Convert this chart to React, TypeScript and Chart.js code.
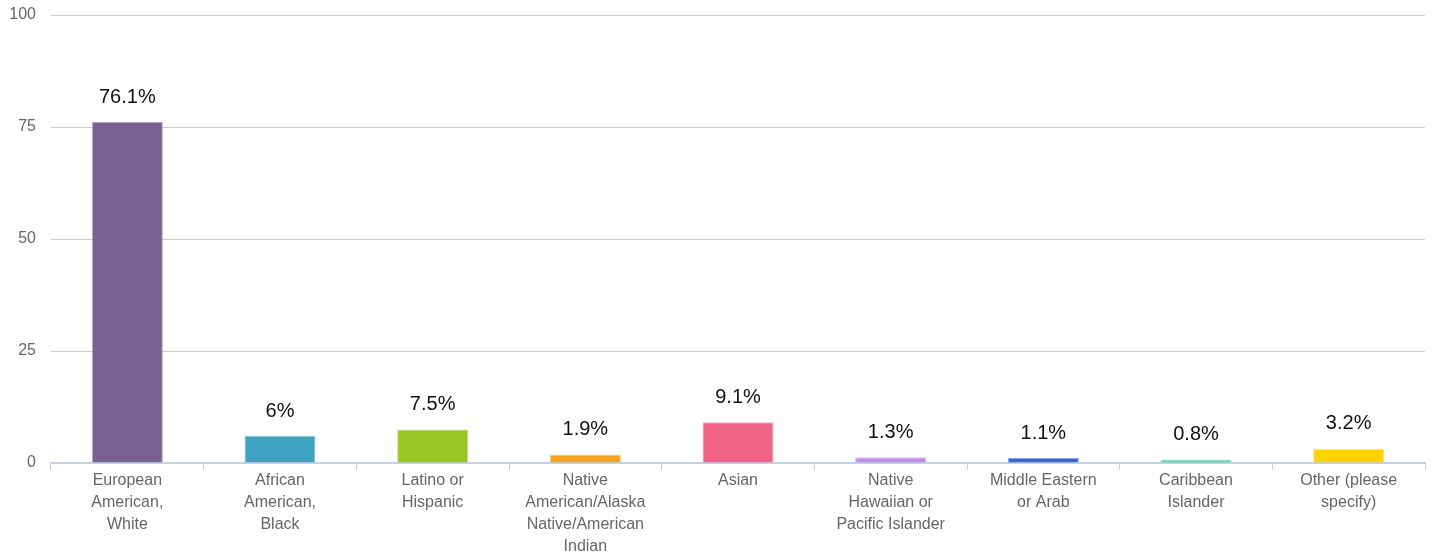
import React, { useEffect, useRef } from "react";
import { Chart, registerables } from "chart.js";

Chart.register(...registerables);

const categories: string[][] = [
  ["European", "American,", "White"],
  ["African", "American,", "Black"],
  ["Latino or", "Hispanic"],
  ["Native", "American/Alaska", "Native/American", "Indian"],
  ["Asian"],
  ["Native", "Hawaiian or", "Pacific Islander"],
  ["Middle Eastern", "or Arab"],
  ["Caribbean", "Islander"],
  ["Other (please", "specify)"],
];
const values: number[] = [76.1, 6, 7.5, 1.9, 9.1, 1.3, 1.1, 0.8, 3.2];
const valueLabels: string[] = ["76.1%", "6%", "7.5%", "1.9%", "9.1%", "1.3%", "1.1%", "0.8%", "3.2%"];
const barColors: string[] = [
  "#7b6191", "#3fa1c2", "#95c623", "#f5a31a", "#f06384",
  "#c28de8", "#3a67d6", "#4bd6b0", "#ffd200",
];
const barBorders: string[] = [
  "#b3a5c0", "#8cc8dc", "#c0dd7b", "#f9c775", "#f5a1b5",
  "#dcbcf2", "#88a4e6", "#93e6d0", "#ffe466",
];
const yTicks: number[] = [0, 25, 50, 75, 100];

const FONT = "'Liberation Sans', Arial, Helvetica, sans-serif";

const valueLabelPlugin = {
  id: "valueLabels",
  afterDatasetsDraw(chart: any) {
    const ctx = chart.ctx;
    const meta = chart.getDatasetMeta(0);
    ctx.save();
    ctx.font = `20px ${FONT}`;
    ctx.fillStyle = "#111";
    ctx.textAlign = "center";
    ctx.textBaseline = "middle";
    meta.data.forEach((bar: any, i: number) => {
      ctx.fillText(valueLabels[i], bar.x, bar.y - 25);
    });
    ctx.restore();
  },
};

export default function App() {
  const ref = useRef<HTMLCanvasElement>(null);
  useEffect(() => {
    document.body.style.margin = "0";
    const chart = new Chart(ref.current!, {
      type: "bar",
      data: {
        labels: categories,
        datasets: [
          {
            data: values,
            backgroundColor: barColors,
            borderColor: barBorders,
            borderWidth: 1,
            categoryPercentage: 1,
            barPercentage: 0.465,
          },
        ],
      },
      plugins: [valueLabelPlugin],
      options: {
        animation: false,
        responsive: false,
        maintainAspectRatio: false,
        layout: { padding: { top: 15, right: 9, left: 0, bottom: 0 } },
        plugins: {
          legend: { display: false },
          tooltip: { enabled: false },
        },
        scales: {
          x: {
            grid: {
              offset: true,
              drawOnChartArea: false,
              drawTicks: true,
              tickLength: 7,
              color: "#c3d1e2",
              lineWidth: 1,
            },
            border: { display: true, color: "#c3d1e2", width: 2 },
            ticks: {
              color: "#666",
              font: { family: FONT, size: 16, lineHeight: "22px" },
              padding: 0,
              maxRotation: 0,
              autoSkip: false,
            },
            afterFit(scale: any) {
              scale.height = 93;
              scale.paddingLeft = 0;
              scale.paddingRight = 0;
            },
          },
          y: {
            min: 0,
            max: 100,
            afterBuildTicks(scale: any) {
              scale.ticks = yTicks.map((v) => ({ value: v }));
            },
            grid: {
              color: "#cccccc",
              lineWidth: 1,
              drawTicks: false,
            },
            border: { display: false },
            ticks: {
              color: "#666",
              font: { family: FONT, size: 16 },
              padding: 15,
            },
            afterFit(scale: any) {
              scale.width = 51;
              scale.paddingTop = 0;
              scale.paddingBottom = 0;
            },
          },
        },
      },
    });
    return () => chart.destroy();
  }, []);
  return (
    <div style={{ width: 1434, height: 556, position: "relative" }}>
      <canvas ref={ref} width={1434} height={556} style={{ display: "block" }} />
    </div>
  );
}
